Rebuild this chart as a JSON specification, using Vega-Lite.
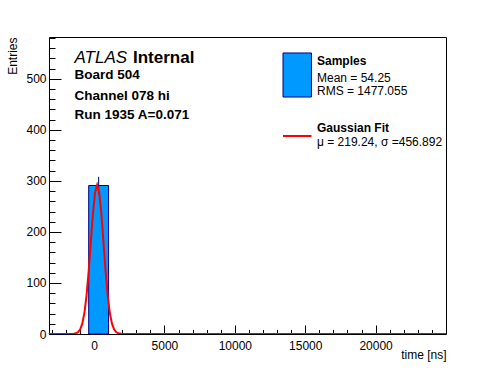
{
  "$schema": "https://vega.github.io/schema/vega-lite/v6.json",
  "width": 397,
  "height": 297,
  "autosize": {"type": "none"},
  "padding": {"left": 49, "top": 37, "right": 50, "bottom": 38},
  "background": "white",
  "config": {
    "font": "Liberation Sans",
    "view": {"stroke": "black", "strokeWidth": 1},
    "axis": {"grid": false, "domain": false, "tickColor": "black", "labelColor": "black", "titleColor": "black", "labelFont": "Liberation Sans", "titleFont": "Liberation Sans", "labelFontSize": 12, "titleFontSize": 12, "titleFontWeight": "normal", "labelOverlap": false, "labelFlush": false}
  },
  "datasets": {
    "hist": [
      {"x": -3200, "x2": -1790, "y": 1},
      {"x": -380, "x2": 1030, "y": 291}
    ],
    "err": [
      {"x": 325, "y": 274, "y2": 308}
    ],
    "fit": [
      {"x": -3200, "y": 0},
      {"x": -1500, "y": 0.2},
      {"x": -1281, "y": 1.3},
      {"x": -1131, "y": 3.7},
      {"x": -981, "y": 9.3},
      {"x": -831, "y": 20.8},
      {"x": -681, "y": 42.0},
      {"x": -531, "y": 75.9},
      {"x": -381, "y": 123.3},
      {"x": -231, "y": 179.8},
      {"x": -81, "y": 235.4},
      {"x": 69, "y": 276.7},
      {"x": 219, "y": 292},
      {"x": 369, "y": 276.7},
      {"x": 519, "y": 235.4},
      {"x": 669, "y": 179.8},
      {"x": 819, "y": 123.3},
      {"x": 969, "y": 75.9},
      {"x": 1119, "y": 42.0},
      {"x": 1269, "y": 20.8},
      {"x": 1419, "y": 9.3},
      {"x": 1569, "y": 3.7},
      {"x": 1719, "y": 1.3},
      {"x": 2000, "y": 0.2},
      {"x": 25000, "y": 0}
    ],
    "legbox": [{"x": 13423, "x2": 15446, "y": 550.7, "y2": 464.4}],
    "legline": [{"x": 13423, "y": 388}, {"x": 15446, "y": 388}],
    "atlas": [{"x": -1389, "y": 540.9, "text": "ATLAS"}],
    "internal": [{"x": 2767, "y": 540.9, "text": "Internal"}],
    "info": [
      {"x": -1389, "y": 507.5, "text": "Board 504"},
      {"x": -1389, "y": 466.4, "text": "Channel 078 hi"},
      {"x": -1389, "y": 429.2, "text": "Run 1935 A=0.071"}
    ],
    "legbold": [
      {"x": 15837, "y": 535, "text": "Samples"},
      {"x": 15837, "y": 403.7, "text": "Gaussian Fit"}
    ],
    "legtext": [
      {"x": 15837, "y": 501.7, "text": "Mean = 54.25"},
      {"x": 15837, "y": 476.2, "text": "RMS = 1477.055"},
      {"x": 15837, "y": 376.2, "text": "μ = 219.24, σ =456.892"}
    ]
  },
  "layer": [
    {
      "layer": [
        {
          "data": {"name": "hist"},
          "mark": {"type": "rect", "fill": "#0099ff", "stroke": "#000080", "strokeWidth": 1},
          "encoding": {
            "x": {
              "field": "x", "type": "quantitative",
              "scale": {"domain": [-3200, 25000], "nice": false, "zero": false},
              "axis": {
                "orient": "bottom",
                "values": [0, 5000, 10000, 15000, 20000],
                "format": "d",
                "tickSize": -9,
                "labelPadding": 15,
                "title": "time [ns]",
                "titleX": 397, "titleY": 24, "titleAlign": "right", "titleBaseline": "alphabetic", "titleAnchor": "end"
              }
            },
            "x2": {"field": "x2"},
            "y": {
              "field": "y", "type": "quantitative",
              "scale": {"domain": [0, 582], "nice": false},
              "axis": {
                "orient": "left",
                "values": [0, 100, 200, 300, 400, 500],
                "format": "d",
                "tickSize": -12,
                "labelPadding": 15,
                "title": "Entries",
                "titleX": -37, "titleY": 0, "titleAngle": 270, "titleAlign": "right", "titleBaseline": "middle", "titleAnchor": "end"
              }
            },
            "y2": {"datum": 0}
          }
        },
        {
          "data": {"name": "err"},
          "mark": {"type": "rule", "color": "#000080", "strokeWidth": 1},
          "encoding": {
            "x": {"field": "x", "type": "quantitative"},
            "y": {"field": "y", "type": "quantitative"},
            "y2": {"field": "y2"}
          }
        },
        {
          "data": {"name": "fit"},
          "mark": {"type": "line", "color": "#ff0000", "strokeWidth": 2, "clip": true},
          "encoding": {
            "x": {"field": "x", "type": "quantitative"},
            "y": {"field": "y", "type": "quantitative"}
          }
        },
        {
          "data": {"name": "legbox"},
          "mark": {"type": "rect", "fill": "#0099ff", "stroke": "#000080", "strokeWidth": 1},
          "encoding": {
            "x": {"field": "x", "type": "quantitative"},
            "x2": {"field": "x2"},
            "y": {"field": "y", "type": "quantitative"},
            "y2": {"field": "y2"}
          }
        },
        {
          "data": {"name": "legline"},
          "mark": {"type": "line", "color": "#ff0000", "strokeWidth": 2},
          "encoding": {
            "x": {"field": "x", "type": "quantitative"},
            "y": {"field": "y", "type": "quantitative"}
          }
        },
        {
          "data": {"name": "atlas"},
          "mark": {"type": "text", "align": "left", "baseline": "middle", "fontSize": 17, "fontStyle": "italic", "font": "Liberation Sans", "color": "black"},
          "encoding": {
            "x": {"field": "x", "type": "quantitative"},
            "y": {"field": "y", "type": "quantitative"},
            "text": {"field": "text"}
          }
        },
        {
          "data": {"name": "internal"},
          "mark": {"type": "text", "align": "left", "baseline": "middle", "fontSize": 17, "fontWeight": "bold", "font": "Liberation Sans", "color": "black"},
          "encoding": {
            "x": {"field": "x", "type": "quantitative"},
            "y": {"field": "y", "type": "quantitative"},
            "text": {"field": "text"}
          }
        },
        {
          "data": {"name": "info"},
          "mark": {"type": "text", "align": "left", "baseline": "middle", "fontSize": 13.5, "fontWeight": "bold", "font": "Liberation Sans", "color": "black"},
          "encoding": {
            "x": {"field": "x", "type": "quantitative"},
            "y": {"field": "y", "type": "quantitative"},
            "text": {"field": "text"}
          }
        },
        {
          "data": {"name": "legbold"},
          "mark": {"type": "text", "align": "left", "baseline": "middle", "fontSize": 12, "fontWeight": "bold", "font": "Liberation Sans", "color": "black"},
          "encoding": {
            "x": {"field": "x", "type": "quantitative"},
            "y": {"field": "y", "type": "quantitative"},
            "text": {"field": "text"}
          }
        },
        {
          "data": {"name": "legtext"},
          "mark": {"type": "text", "align": "left", "baseline": "middle", "fontSize": 12, "font": "Liberation Sans", "color": "black"},
          "encoding": {
            "x": {"field": "x", "type": "quantitative"},
            "y": {"field": "y", "type": "quantitative"},
            "text": {"field": "text"}
          }
        }
      ]
    },
    {
      "data": {"name": "hist"},
      "mark": {"type": "point", "opacity": 0},
      "encoding": {
        "x": {
          "field": "x", "type": "quantitative",
          "axis": {
            "orient": "bottom",
            "values": [-3000,-2000,-1000,1000,2000,3000,4000,6000,7000,8000,9000,11000,12000,13000,14000,16000,17000,18000,19000,21000,22000,23000,24000],
            "tickSize": -4.5,
            "labels": false,
            "title": null
          }
        },
        "y": {
          "field": "y", "type": "quantitative",
          "axis": {
            "orient": "left",
            "values": [20,40,60,80,120,140,160,180,220,240,260,280,320,340,360,380,420,440,460,480,520,540,560,580],
            "tickSize": -6,
            "labels": false,
            "title": null
          }
        }
      }
    }
  ],
  "resolve": {"axis": {"x": "independent", "y": "independent"}}
}
